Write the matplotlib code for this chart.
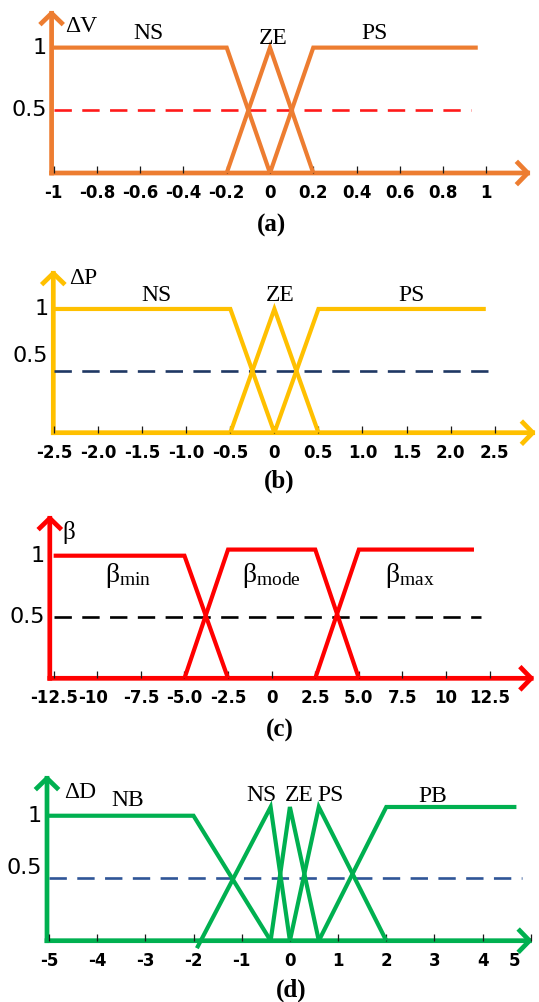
import matplotlib
matplotlib.use("Agg")
import matplotlib.pyplot as plt
from matplotlib.patches import FancyArrowPatch, ArrowStyle
from matplotlib.transforms import blended_transform_factory

plt.rcParams['mathtext.fontset'] = 'custom'
plt.rcParams['mathtext.rm'] = 'Liberation Serif'
plt.rcParams['mathtext.it'] = 'Liberation Serif:italic'
plt.rcParams['mathtext.bf'] = 'Liberation Serif:bold'
plt.rcParams['lines.scale_dashes'] = False

# ---------------- data ----------------
# (a) voltage deviation
dv_ticks = [-1, -0.8, -0.6, -0.4, -0.2, 0, 0.2, 0.4, 0.6, 0.8, 1]
dv_ticklabels = ['-1', '-0.8', '-0.6', '-0.4', '-0.2', '0', '0.2', '0.4', '0.6', '0.8', '1']
dv_sets = ['NS', 'ZE', 'PS']
dv_x = [[-1, -0.2, 0], [-0.2, 0, 0.2], [0, 0.2, 0.96]]
dv_mu = [[1, 1, 0], [0, 1, 0], [0, 1, 1]]
dv_half = [-1, 0.93]

# (b) power deviation
dp_ticks = [-2.5, -2.0, -1.5, -1.0, -0.5, 0, 0.5, 1.0, 1.5, 2.0, 2.5]
dp_ticklabels = ['-2.5', '-2.0', '-1.5', '-1.0', '-0.5', '0', '0.5', '1.0', '1.5', '2.0', '2.5']
dp_sets = ['NS', 'ZE', 'PS']
dp_x = [[-2.5, -0.5, 0], [-0.5, 0, 0.5], [0, 0.5, 2.4]]
dp_mu = [[1, 1, 0], [0, 1, 0], [0, 1, 1]]
dp_half = [-2.5, 2.42]

# (c) beta
beta_ticks = [-12.5, -10, -7.5, -5.0, -2.5, 0, 2.5, 5.0, 7.5, 10, 12.5]
beta_ticklabels = ['-12.5', '-10', '-7.5', '-5.0', '-2.5', '0', '2.5', '5.0', '7.5', '10', '12.5']
beta_sets = [r'$\mathrm{β}_{\mathrm{min}}$', r'$\mathrm{β}_{\mathrm{mode}}$', r'$\mathrm{β}_{\mathrm{max}}$']
beta_x = [[-12.5, -5, -2.5], [-5, -2.5, 2.5, 5], [2.5, 5, 11.6]]
beta_mu = [[1, 1, 0], [0, 1.05, 1.05, 0], [0, 1.05, 1.05]]
beta_half = [-12.5, 12.0]

# (d) duty-cycle step
dd_ticks = [-5, -4, -3, -2, -1, 0, 1, 2, 3, 4, 5]
dd_ticklabels = ['-5', '-4', '-3', '-2', '-1', '0', '1', '2', '3', '4', '5']
dd_sets = ['NB', 'NS', 'ZE', 'PS', 'PB']
dd_x = [[-5, -2, -0.4], [-1.93, -0.4, 0], [-0.4, 0, 0.6], [0, 0.6, 2], [0.6, 2, 4.7]]
dd_mu = [[1, 1, 0], [-0.06, 1.07, 0], [0, 1.07, 0], [0, 1.07, 0], [0, 1.07, 1.07]]
dd_half = [-5, 4.82]

# ---------------- layout ----------------
W, H, DPI = 539, 1002, 100
fig = plt.figure(figsize=(W / DPI, H / DPI), dpi=DPI)
fig.patch.set_facecolor('white')

SERIF = 'Liberation Serif'
SANS = 'DejaVu Sans'

panels = [
    dict(rect=(51.6, 531, 10, 173), xlim=(-1.009, 1.206), ylim=(0, 1.30),
         ticks=dv_ticks, ticklabels=dv_ticklabels, xs=dv_x, mus=dv_mu, half=dv_half,
         color='#ED7D31', dash='#FF1A1A', var='ΔV', var_pos=(-0.87, 1.17), var_size=17,
         sets=dv_sets, set_pos=[(-0.56, 1.11), (0.014, 1.07), (0.485, 1.11)],
         half_label_dy=0, label_shift={}, caption='(a)', cap_pos=(272, 225)),
    dict(rect=(53.3, 536, 270, 432.7), xlim=(-2.51, 2.97), ylim=(0, 1.315),
         ticks=dp_ticks, ticklabels=dp_ticklabels, xs=dp_x, mus=dp_mu, half=dp_half,
         color='#FFC000', dash='#1F3864', var='ΔP', var_pos=(-2.17, 1.25), var_size=17,
         sets=dp_sets, set_pos=[(-1.34, 1.11), (0.07, 1.11), (1.56, 1.11)],
         half_label_dy=10.5, label_shift={}, caption='(b)', cap_pos=(279, 481)),
    dict(rect=(49.8, 534.5, 515, 678.3), xlim=(-12.72, 15.07), ylim=(0, 1.332),
         ticks=beta_ticks, ticklabels=beta_ticklabels, xs=beta_x, mus=beta_mu, half=beta_half,
         color='#FF0000', dash='#000000', var='β', var_pos=(-11.65, 1.19), var_size=18,
         sets=beta_sets, set_pos=[(-9.56, 0.84), (-1.68, 0.84), (6.5, 0.84)],
         half_label_dy=0, label_shift={'-10': -3}, caption='(c)', cap_pos=(280, 730)),
    dict(rect=(47, 532.8, 775, 940.7), xlim=(-5.04, 5.04), ylim=(0, 1.326),
         ticks=dd_ticks, ticklabels=dd_ticklabels, xs=dd_x, mus=dd_mu, half=dd_half,
         color='#00B050', dash='#2F5597', var='ΔD', var_pos=(-4.36, 1.185), var_size=17,
         sets=dd_sets, set_pos=[(-3.36, 1.12), (-0.58, 1.16), (0.19, 1.16), (0.85, 1.16), (2.97, 1.15)],
         half_label_dy=7, label_shift={'5': -12}, caption='(d)', cap_pos=(291, 990)),
]

for p in panels:
    left, right, top, bottom = p['rect']
    ax = fig.add_axes([left / W, 1 - bottom / H, (right - left) / W, (bottom - top) / H])
    ax.set_xlim(p['xlim'])
    ax.set_ylim(p['ylim'])
    ax.patch.set_alpha(0)
    for s in ax.spines.values():
        s.set_visible(False)

    # arrowed axes
    style = ArrowStyle('->', head_length=7.0, head_width=7.2)
    for end in [(1, 0), (0, 1)]:
        arr = FancyArrowPatch((0, 0), end, transform=ax.transAxes, arrowstyle=style,
                              mutation_scale=1, lw=3.4, color=p['color'],
                              shrinkA=0, shrinkB=0, clip_on=False, zorder=1)
        arr.set_capstyle('projecting')
        ax.add_patch(arr)

    # x ticks (marks only) and their labels
    ax.set_xticks(p['ticks'])
    ax.set_xticklabels([])
    ax.tick_params(axis='x', direction='in', length=5, width=0.9, color='#1a1a1a')
    ax.set_yticks([])
    xtrans = blended_transform_factory(ax.transData, ax.transAxes)
    for val, lab in zip(p['ticks'], p['ticklabels']):
        ax.annotate(lab, xy=(val, 0), xycoords=xtrans,
                    xytext=(p['label_shift'].get(lab, 0), -8), textcoords='offset points',
                    ha='center', va='top', fontsize=12, fontweight='bold',
                    family=SANS, color='black', annotation_clip=False)

    # membership level labels on the vertical axis
    ytrans = blended_transform_factory(ax.transAxes, ax.transData)
    for val, lab, dy in [(1, '1', 0), (0.5, '0.5', p['half_label_dy'])]:
        ax.annotate(lab, xy=(0, val), xycoords=ytrans, xytext=(-3.5, dy),
                    textcoords='offset points', ha='right', va='center',
                    fontsize=16, family=SANS, color='black', annotation_clip=False)

    # membership functions
    for xs, mu in zip(p['xs'], p['mus']):
        ax.plot(xs, mu, color=p['color'], lw=3.0, solid_joinstyle='miter',
                solid_capstyle='butt', clip_on=False, zorder=3)

    # 0.5 level
    ax.plot(p['half'], [0.5, 0.5], color=p['dash'], lw=1.9, dashes=(12.5, 7.5),
            clip_on=False, zorder=2)

    # variable and fuzzy set names
    ax.text(*p['var_pos'], p['var'], ha='center', va='center',
            fontsize=p['var_size'], family=SERIF)
    for name, pos in zip(p['sets'], p['set_pos']):
        if name.startswith('$'):
            ax.text(*pos, name, ha='left', va='center', fontsize=20, family=SERIF)
        else:
            ax.text(*pos, name, ha='center', va='center', fontsize=17, family=SERIF)

    fig.text(p['cap_pos'][0] / W, 1 - p['cap_pos'][1] / H, p['caption'],
             ha='center', va='center', fontsize=18, fontweight='bold', family=SERIF)

fig.savefig('out.png', dpi=DPI, facecolor='white')
